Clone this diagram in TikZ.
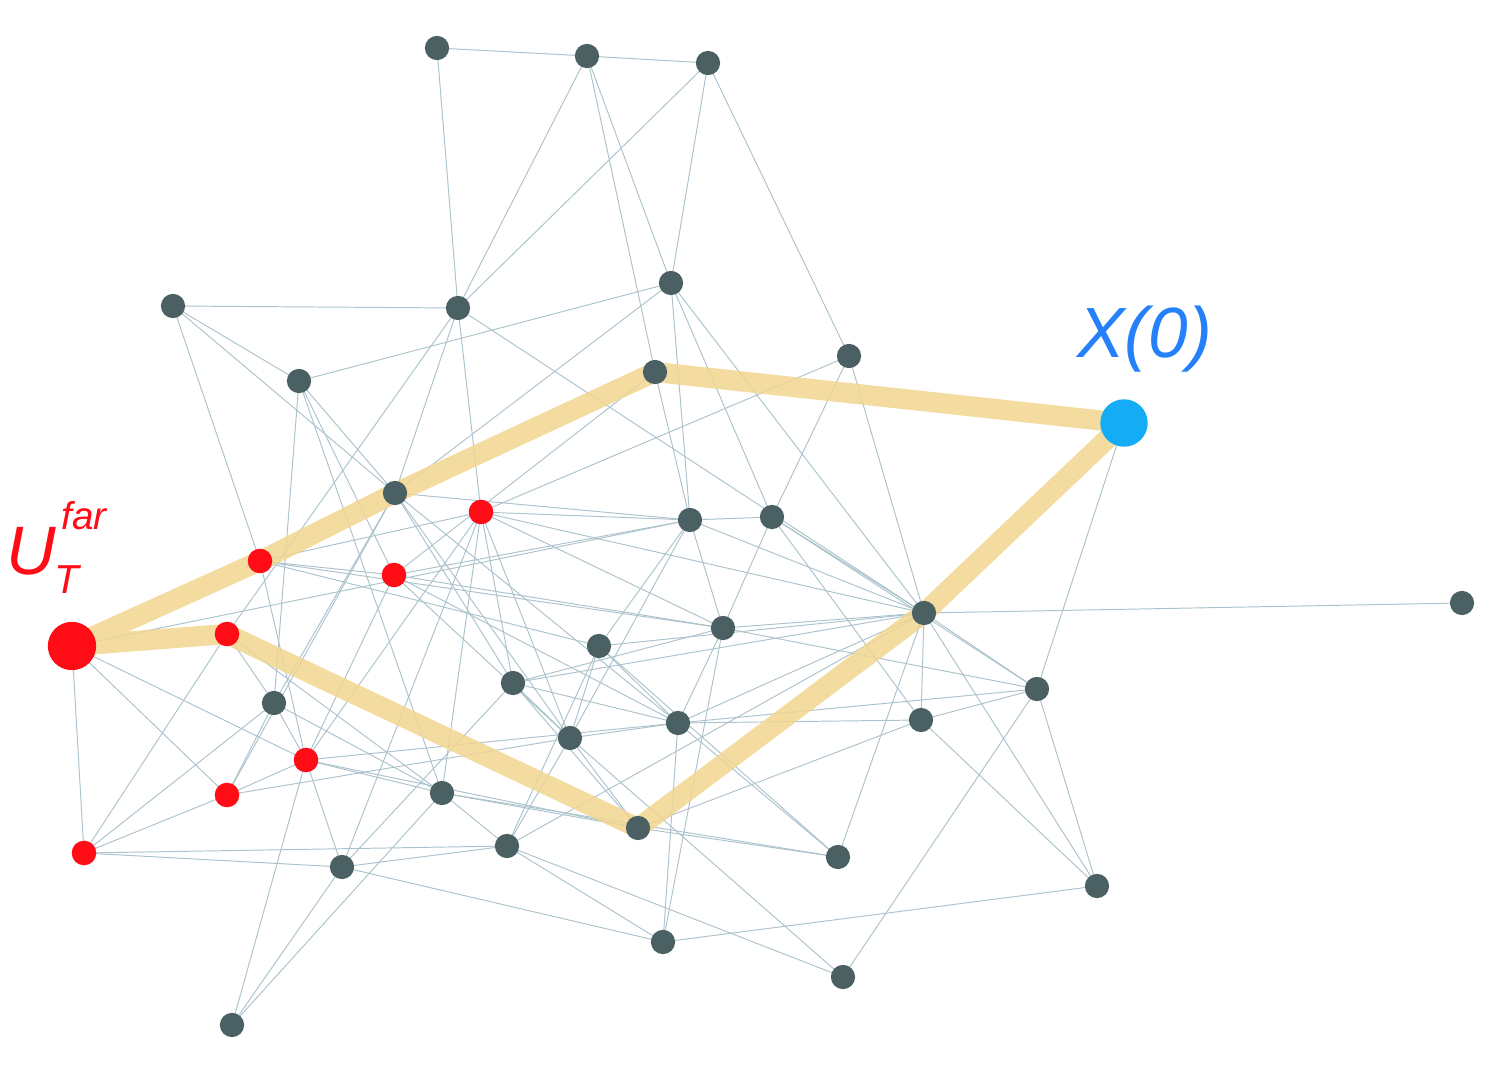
\documentclass[tikz,border=0pt]{standalone}
\usepackage{fontspec}
\newfontfamily\labfont{Liberation Sans}
\definecolor{dk}{RGB}{75,96,99}
\definecolor{rd}{RGB}{255,12,22}
\definecolor{bl}{RGB}{20,172,245}
\definecolor{bltxt}{RGB}{38,128,250}
\definecolor{edgec}{RGB}{172,195,205}
\definecolor{hlc}{RGB}{242,214,145}
\pgfdeclarelayer{bg}
\pgfsetlayers{bg,main}
\tikzset{
  dn/.style={circle,fill=dk,inner sep=0pt,minimum size=13.8pt},
  rn/.style={circle,fill=rd,inner sep=0pt,minimum size=14pt},
  ed/.style={draw=edgec,line width=0.55pt},
  hl/.style={draw=hlc,line width=11.5pt,opacity=0.85,line join=round,line cap=round},
  lab/.style={anchor=base west,inner sep=0pt},
}
\begin{document}
\begin{tikzpicture}[x=0.02cm,y=-0.02cm]
\useasboundingbox (0,0) rectangle (1494,1070);
% dark nodes
\foreach \n/\px/\py in {n1/437/48,n2/587/56,n3/708/63,n4/173/306,n5/458/308,n6/671/283,n7/299/381,n8/655/372,n9/849/356,n10/395/493,n11/690/520,n12/772/517,n13/924/613,n14/1462/603,n15/599/646,n16/723/628,n17/513/683,n18/274/703,n19/678/723,n20/570/738,n21/921/720,n22/1037/689,n23/442/793,n24/638/828,n25/507/846,n26/342/867,n27/838/857,n28/1097/886,n29/663/942,n30/843/977,n31/232/1025}
  \node[dn] (\n) at (\px,\py) {};
% red nodes
\foreach \n/\px/\py in {r1/481/512,r2/260/561,r3/394/575,r4/227/634,r5/306/760,r6/227/795,r7/84/853}
  \node[rn] (\n) at (\px,\py) {};
\node[circle,fill=rd,inner sep=0pt,minimum size=27.5pt] (r0) at (72,646) {};
\node[circle,fill=bl,inner sep=0pt,minimum size=27pt] (X) at (1124,423) {};
% labels
\node[lab,text=bltxt,font=\labfont\itshape\fontsize{40.5pt}{40.5pt}\selectfont] (lx) at (1077,358) {X(0)};
\node[lab,text=rd,font=\labfont\itshape\fontsize{39pt}{39pt}\selectfont] (lu) at (6,575) {U};
\node[lab,text=rd,font=\labfont\itshape\fontsize{23pt}{23pt}\selectfont] (lt) at (54,594) {T};
\node[lab,text=rd,font=\labfont\itshape\fontsize{22pt}{22pt}\selectfont] (lf) at (61,530) {far};
\begin{pgfonlayer}{bg}
\foreach \a/\b in {n1/n2,n1/n5,n2/n3,n2/n5,n2/n6,n2/n8,n3/n5,n3/n6,n3/n9,
n4/n5,n4/n7,n4/r2,n4/n10,
n5/n10,n5/r4,n5/r1,n5/n13,
n6/n7,n6/n10,n6/n11,n6/n12,n6/n13,
n7/r3,n7/n23,n7/n18,n7/n10,
n8/n11,n8/r3,
n9/r1,n9/n12,n9/n13,
X/n22,
n10/n11,n10/n17,n10/n20,n10/n19,n10/n18,n10/r6,
r1/n11,r1/n17,r1/n20,r1/n13,r1/n16,r1/r5,r1/n23,r1/n26,r1/r2,
r2/r5,r2/n16,r2/n15,r2/r3,
r3/n11,r3/n16,r3/n19,r3/n20,
r0/r5,r0/r6,r0/r7,r0/n11,
r7/r6,r7/n18,r7/r4,r7/n26,r7/n25,
r6/r5,r6/n18,r6/n20,
r5/n18,r5/r3,r5/n19,r5/n23,r5/n24,r5/n31,r5/n26,
n18/r4,n18/n23,
r4/n23,
n11/n12,n11/n16,n11/n15,n11/n20,n11/n13,
n12/n13,n12/n21,n12/n22,n12/n16,
n13/n14,n13/n21,n13/n22,n13/n27,n13/n28,n13/n16,n13/n15,n13/n17,n13/n19,n13/n25,
n21/n22,n21/n28,n21/n19,n21/n24,
n22/n28,n22/n30,n22/n19,
n28/n29,
n15/n20,n15/n19,n15/n27,n15/n25,
n16/n17,n16/n19,n16/n29,n16/n22,
n17/n19,n17/n20,n17/n24,n17/n26,
n19/n20,n19/n27,n19/n29,
n20/n24,n20/n30,n20/n25,
n23/n24,n23/n27,n23/n25,n23/n31,
n24/n27,
n25/n30,n25/n26,n25/n29,
n26/n29,n26/n31}
  \draw[ed] (\a.center) -- (\b.center);
\draw[hl] (r0.center) -- (r2.center) -- (n10.center) -- (n8.center) -- (X.center) -- (n13.center) -- (n24.center) -- (r4.center) -- cycle;
\end{pgfonlayer}
\end{tikzpicture}
\end{document}
